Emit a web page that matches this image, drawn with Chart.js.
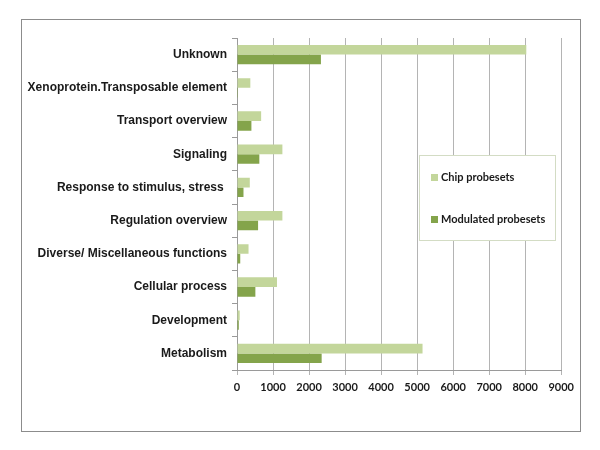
<!DOCTYPE html>
<html>
<head>
<meta charset="utf-8">
<script src="https://cdn.jsdelivr.net/npm/chart.js@4"></script>
<style>
  body { margin: 0; background: #fff; }
  #box { position: absolute; left: 21px; top: 19px; width: 558px; height: 411px; border: 1px solid #8c8c8c; }
  canvas { display: block; }
</style>
</head>
<body>
<div id="box"><canvas id="myChart" width="558" height="411"></canvas></div>
<script>
  const categories = [
    "Unknown",
    "Xenoprotein.Transposable element",
    "Transport overview",
    "Signaling",
    "Response to stimulus, stress ",
    "Regulation overview",
    "Diverse/ Miscellaneous functions",
    "Cellular process",
    "Development",
    "Metabolism",
  ];
  const chipProbesets = [8030, 370, 670, 1260, 355, 1260, 320, 1110, 75, 5150];
  const modulatedProbesets = [2330, 25, 400, 620, 180, 585, 90, 510, 50, 2350];
  const xTicks = [0, 1000, 2000, 3000, 4000, 5000, 6000, 7000, 8000, 9000];

  const lightGreen = "#c3d69b";
  const darkGreen = "#84a44b";

  // legend box drawn inside the plot, like the original
  const boxLegend = {
    id: "boxLegend",
    afterDraw(chart) {
      const c = chart.ctx;
      const x = 397, y = 135, w = 136, h = 85;
      c.save();
      c.fillStyle = "#fff";
      c.fillRect(x, y, w, h);
      c.strokeStyle = "#d3dcc4";
      c.lineWidth = 1;
      c.strokeRect(x + 0.5, y + 0.5, w, h);
      c.font = "bold 11px Lato";
      c.textBaseline = "middle";
      chart.data.datasets.forEach((ds, i) => {
        const yy = y + 22 + i * 42;
        c.fillStyle = ds.backgroundColor;
        c.fillRect(x + 12, yy - 3, 7, 7);
        c.fillStyle = "#1a1a1a";
        c.fillText(ds.label, x + 22, yy);
      });
      c.restore();
    },
  };

  const ctx = document.getElementById("myChart").getContext("2d");
  new Chart(ctx, {
    type: "bar",
    data: {
      labels: categories,
      datasets: [
        { label: "Chip probesets", data: chipProbesets, backgroundColor: lightGreen },
        { label: "Modulated probesets", data: modulatedProbesets, backgroundColor: darkGreen },
      ],
    },
    options: {
      indexAxis: "y",
      responsive: false,
      animation: false,
      layout: { padding: { left: 0, right: 9, top: 18, bottom: 31 } },
      datasets: { bar: { categoryPercentage: 0.58, barPercentage: 1.0 } },
      plugins: { legend: { display: false }, tooltip: { enabled: false } },
      scales: {
        x: {
          min: 0,
          max: 9000,
          afterBuildTicks: (scale) => { scale.ticks = xTicks.map((v) => ({ value: v })); },
          afterFit: (scale) => { scale.height = 30; },
          grid: { color: "#b4b4b4", tickLength: 5 },
          border: { color: "#9a9a9a" },
          ticks: {
            color: "#1a1a1a",
            padding: 6,
            font: { family: "Lato", weight: "bold", size: 11 },
            callback: (v) => String(v),
          },
        },
        y: {
          afterFit: (scale) => { scale.width = 215; },
          grid: { drawOnChartArea: false, offset: true, tickLength: 5, color: "#9a9a9a" },
          border: { color: "#9a9a9a" },
          ticks: { color: "#1a1a1a", padding: 5, font: { family: "Liberation Sans", weight: "bold", size: 12 } },
        },
      },
    },
    plugins: [boxLegend],
  });
</script>
</body>
</html>
